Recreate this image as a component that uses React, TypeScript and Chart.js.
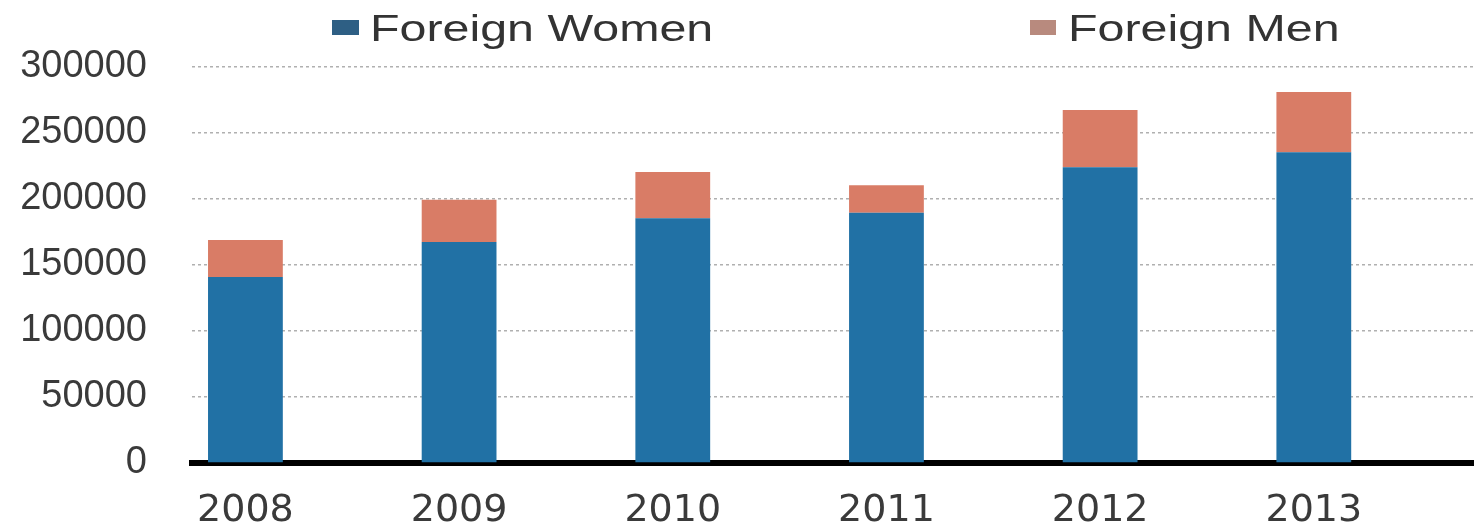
import React, { useEffect, useRef } from "react";
import { Chart, registerables } from "chart.js";

Chart.register(...registerables);

const years = ["2008", "2009", "2010", "2011", "2012", "2013"];
const foreignWomen = [141000, 167500, 185500, 189500, 224000, 235500];
const foreignMen = [28000, 32000, 35000, 21000, 43500, 45500];
const yTicks = [0, 50000, 100000, 150000, 200000, 250000, 300000];

const WOMEN_COLOR = "#2171a5";
const MEN_COLOR = "#d97c66";

export default function App() {
  const canvasRef = useRef<HTMLCanvasElement | null>(null);

  useEffect(() => {
    const canvas = canvasRef.current;
    if (!canvas) return;
    const chart = new Chart(canvas, {
      type: "bar",
      data: {
        datasets: [
          {
            label: "Foreign Women",
            data: foreignWomen.map((v, i) => ({ x: i, y: v })),
            backgroundColor: WOMEN_COLOR,
            barPercentage: 0.35,
            categoryPercentage: 1,
          },
          {
            label: "Foreign Men",
            data: foreignMen.map((v, i) => ({ x: i, y: v })),
            backgroundColor: MEN_COLOR,
            barPercentage: 0.35,
            categoryPercentage: 1,
          },
        ],
      },
      options: {
        animation: false,
        responsive: false,
        maintainAspectRatio: false,
        layout: { padding: { left: 20, right: 8, top: 67, bottom: 0 } },
        plugins: {
          legend: { display: false },
          tooltip: { enabled: false },
        },
        scales: {
          x: {
            type: "linear",
            stacked: true,
            offset: false,
            bounds: "data",
            min: -0.25,
            max: 5.745,
            afterBuildTicks: (scale: any) => {
              scale.ticks = years.map((_, i) => ({ value: i }));
            },
            afterFit: (scale: any) => {
              scale.height = 61;
            },
            grid: { display: false, drawTicks: false, offset: false },
            border: { display: true, color: "#000000", width: 6 },
            ticks: {
              padding: 37,
              color: "#3a3a3a",
              font: { family: "DejaVu Sans", size: 38, lineHeight: 0.6 },
              callback: (v: any) => years[v as number] ?? "",
              maxRotation: 0,
              autoSkip: false,
            },
          },
          y: {
            stacked: true,
            min: 0,
            max: 300000,
            afterBuildTicks: (scale: any) => {
              scale.ticks = yTicks.map((v) => ({ value: v }));
            },
            afterFit: (scale: any) => {
              scale.width = 172;
            },
            grid: {
              color: "#b0b0b0",
              lineWidth: 1.5,
              drawTicks: false,
            },
            border: { display: false, dash: [3, 3] },
            ticks: {
              padding: 45,
              color: "#3a3a3a",
              font: { family: "Liberation Sans", size: 38, lineHeight: 0.6 },
              callback: (v: any) => String(v),
            },
          },
        },
      },
    });
    return () => chart.destroy();
  }, []);

  const legendText: React.CSSProperties = {
    position: "absolute",
    top: 10,
    fontFamily: "Liberation Sans",
    fontSize: 37.5,
    lineHeight: 1,
    color: "#333",
    transform: "scaleX(1.29)",
    transformOrigin: "left top",
    whiteSpace: "nowrap",
  };

  return (
    <div
      style={{
        position: "absolute",
        left: 0,
        top: 0,
        width: 1481,
        height: 524,
        overflow: "hidden",
        background: "#fff",
      }}
    >
      <canvas ref={canvasRef} width={1481} height={524} style={{ display: "block" }} />
      <div style={{ position: "absolute", left: 332, top: 20, width: 27, height: 15, background: "#2e5f84" }} />
      <div style={{ ...legendText, left: 370 }}>Foreign Women</div>
      <div style={{ position: "absolute", left: 1030, top: 20, width: 26, height: 15, background: "#b88a7e" }} />
      <div style={{ ...legendText, left: 1068 }}>Foreign Men</div>
    </div>
  );
}
